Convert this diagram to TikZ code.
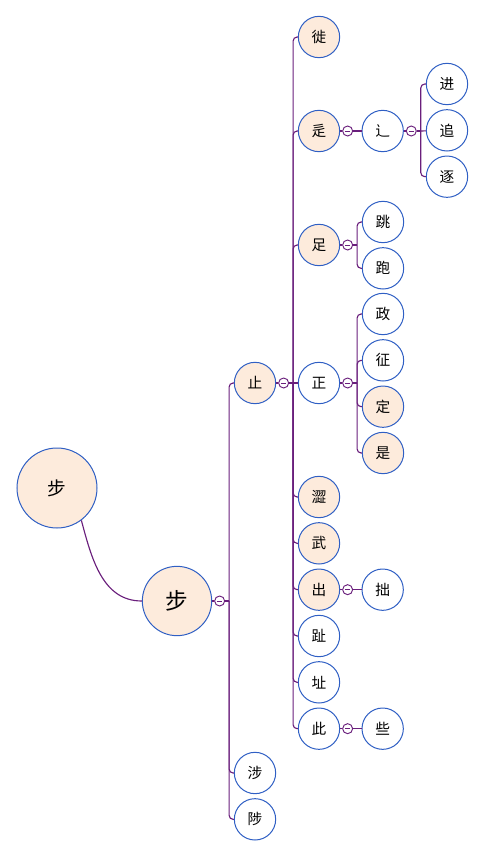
\documentclass[tikz,border=0pt]{standalone}
\usepackage{fontspec}
\newfontfamily\cjk{Noto Sans CJK SC}
\usetikzlibrary{positioning}
\definecolor{vine}{HTML}{6A1F7C}
\definecolor{rim}{HTML}{2F5FC4}
\definecolor{peach}{HTML}{FDEBDC}

\begin{document}
\begin{tikzpicture}[
    x=0.75pt, y=-0.75pt,
    node distance=3pt,
    leaf/.style={circle, draw=rim, fill=white, line width=0.75pt, minimum size=31pt, inner sep=0pt, font=\cjk\fontsize{11}{11}\selectfont},
    hot/.style={leaf, fill=peach},
    fold/.style={circle, draw=vine, fill=white, line width=0.7pt, minimum size=7.5pt, inner sep=0pt,
      path picture={\draw[vine, line width=0.5pt] ([xshift=-2pt]path picture bounding box.center) -- ([xshift=2pt]path picture bounding box.center);}},
    link/.style={draw=vine, line width=0.85pt},
    branch/.style={link, rounded corners=3pt}
  ]
    \useasboundingbox (0,0) rectangle (485,857);
    % root and first split
    \node[hot, minimum size=60pt, font=\cjk\fontsize{14}{14}\selectfont] (root) at (57,488) {步};
    \node[hot, minimum size=52pt, font=\cjk\fontsize{17}{17}\selectfont] (bu) at (177,601) {步};
    \node[fold, right=1.5pt of bu] (f-bu) {};
    \coordinate[right=3pt of f-bu] (b-bu);
    \node[hot] (zhi) at (255,383) {止};
    \node[leaf] (she) at (255,773) {涉};
    \node[leaf, below=of she] (zhi2) {陟};
    % children of zhi
    \node[fold, right=1.5pt of zhi] (f-zhi) {};
    \coordinate[right=3pt of f-zhi] (b-zhi);
    \node[hot] (xi) at (319,37) {徙};
    \node[hot] (chuo) at (319,131) {辵};
    \node[hot] (zu) at (319,245) {足};
    \node[leaf] (zheng) at (319,383) {正};
    \node[hot] (se) at (319,497) {澀};
    \node[hot, below=of se] (wu) {武};
    \node[hot, below=of wu] (chu) {出};
    \node[leaf, below=of chu] (zhi3) {趾};
    \node[leaf, below=of zhi3] (zhi4) {址};
    \node[leaf, below=of zhi4] (ci) {此};
    % third level
    \node[fold, right=1.5pt of chuo] (f-chuo) {};
    \node[leaf, right=16pt of chuo] (chuo2) {辶};
    \node[fold, right=1.5pt of chuo2] (f-chuo2) {};
    \coordinate[right=3pt of f-chuo2] (b-chuo2);
    \node[leaf] (jin) at (447,84) {进};
    \node[leaf, below=of jin] (zhui) {追};
    \node[leaf, below=of zhui] (zhu) {逐};
    \node[fold, right=1.5pt of zu] (f-zu) {};
    \coordinate[right=3pt of f-zu] (b-zu);
    \node[leaf] (tiao) at (383,222) {跳};
    \node[leaf, below=of tiao] (pao) {跑};
    \node[fold, right=1.5pt of zheng] (f-zheng) {};
    \coordinate[right=3pt of f-zheng] (b-zheng);
    \node[leaf] (zheng2) at (383,314) {政};
    \node[leaf, below=of zheng2] (zheng3) {征};
    \node[hot, below=of zheng3] (ding) {定};
    \node[hot, below=of ding] (shi) {是};
    \node[fold, right=1.5pt of chu] (f-chu) {};
    \node[leaf, right=16pt of chu] (zhuo) {拙};
    \node[fold, right=1.5pt of ci] (f-ci) {};
    \node[leaf, right=16pt of ci] (xie) {些};
    % connectors
    \draw[link] (root.-53) to[out=-75, in=180] (bu);
    \draw[link] (bu) -- (f-bu);
    \draw[link] (f-bu) -- (b-bu);
    \draw[branch] (b-bu) |- (zhi);
    \draw[branch] (b-bu) |- (she);
    \draw[branch] (b-bu) |- (zhi2);
    \draw[link] (zhi) -- (f-zhi);
    \draw[link] (f-zhi) -- (b-zhi);
    \draw[branch] (b-zhi) |- (xi);
    \draw[branch] (b-zhi) |- (chuo);
    \draw[branch] (b-zhi) |- (zu);
    \draw[link] (b-zhi) -- (zheng);
    \draw[branch] (b-zhi) |- (se);
    \draw[branch] (b-zhi) |- (wu);
    \draw[branch] (b-zhi) |- (chu);
    \draw[branch] (b-zhi) |- (zhi3);
    \draw[branch] (b-zhi) |- (zhi4);
    \draw[branch] (b-zhi) |- (ci);
    \draw[link] (chuo) -- (f-chuo);
    \draw[link] (f-chuo) -- (chuo2);
    \draw[link] (chuo2) -- (f-chuo2);
    \draw[link] (f-chuo2) -- (b-chuo2);
    \draw[branch] (b-chuo2) |- (jin);
    \draw[link] (b-chuo2) -- (zhui);
    \draw[branch] (b-chuo2) |- (zhu);
    \draw[link] (zu) -- (f-zu);
    \draw[link] (f-zu) -- (b-zu);
    \draw[branch] (b-zu) |- (tiao);
    \draw[branch] (b-zu) |- (pao);
    \draw[link] (zheng) -- (f-zheng);
    \draw[link] (f-zheng) -- (b-zheng);
    \draw[branch] (b-zheng) |- (zheng2);
    \draw[branch] (b-zheng) |- (zheng3);
    \draw[branch] (b-zheng) |- (ding);
    \draw[branch] (b-zheng) |- (shi);
    \draw[link] (chu) -- (f-chu);
    \draw[link] (f-chu) -- (zhuo);
    \draw[link] (ci) -- (f-ci);
    \draw[link] (f-ci) -- (xie);
  \end{tikzpicture}
\end{document}
